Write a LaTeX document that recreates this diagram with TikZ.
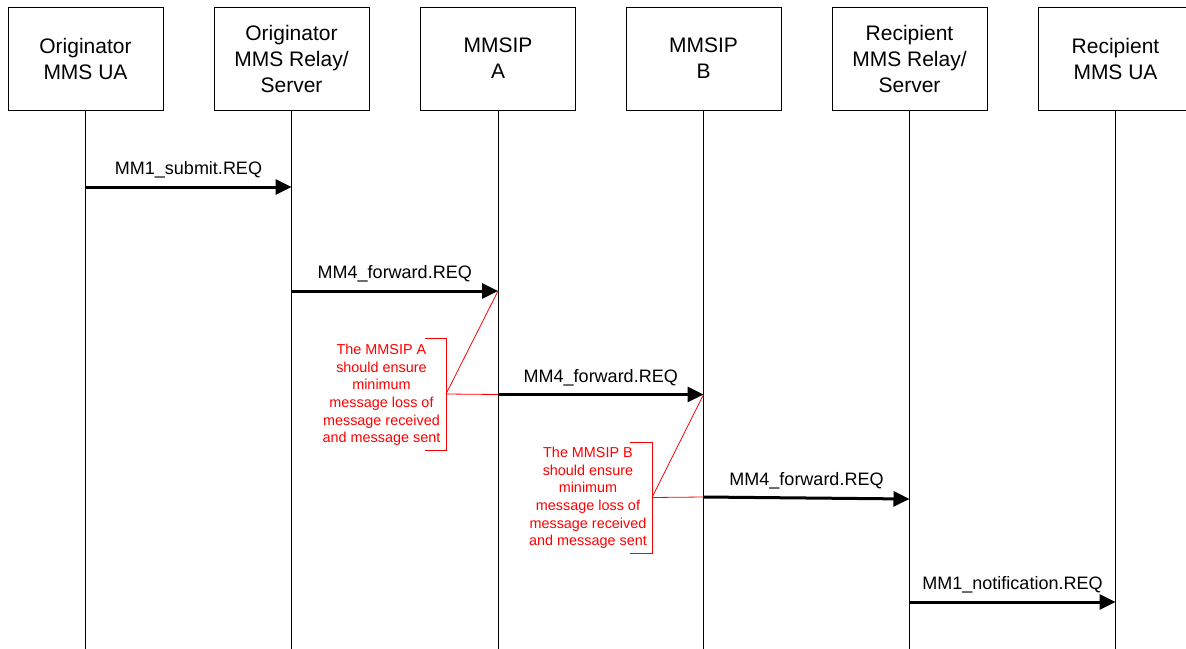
\documentclass[tikz,border=0pt]{standalone}
\usepackage{fontspec}
\setmainfont{Liberation Sans}
\usetikzlibrary{arrows.meta}

\begin{document}
\begin{tikzpicture}[x=1pt,y=-1pt,
  actor/.style={draw, line width=1pt, minimum width=155pt, minimum height=103pt,
    align=center, inner sep=0pt, font=\fontsize{21}{26}\selectfont},
  life/.style={line width=1pt},
  msg/.style={line width=3pt, -{Triangle[length=16pt,width=15pt]}},
  lbl/.style={midway, above=7pt, inner sep=0pt, font=\fontsize{18}{20}\selectfont},
  note/.style={text=red, align=center, inner sep=0pt,
    font=\fontsize{14.4}{17.6}\selectfont},
  noteline/.style={draw=red, line width=0.8pt}
]
\useasboundingbox (0,0) rectangle (1186,648);

% participants
\node[actor] (ua1)  at (85.5,58.5)   {Originator\\MMS UA};
\node[actor] (rs1)  at (291.5,58.5)  {Originator\\MMS Relay/\\Server};
\node[actor] (ipa)  at (498,58.5)    {MMSIP\\A};
\node[actor] (ipb)  at (703.5,58.5)  {MMSIP\\B};
\node[actor] (rs2)  at (909.5,58.5)  {Recipient\\MMS Relay/\\Server};
\node[actor] (ua2)  at (1115.5,58.5) {Recipient\\MMS UA};

% lifelines
\coordinate (ua1e) at (ua1.south |- 0,660);
\coordinate (rs1e) at (rs1.south |- 0,660);
\coordinate (ipae) at (ipa.south |- 0,660);
\coordinate (ipbe) at (ipb.south |- 0,660);
\coordinate (rs2e) at (rs2.south |- 0,660);
\coordinate (ua2e) at (ua2.south |- 0,660);
\draw[life] (ua1) -- (ua1e);
\draw[life] (rs1) -- (rs1e);
\draw[life] (ipa) -- (ipae);
\draw[life] (ipb) -- (ipbe);
\draw[life] (rs2) -- (rs2e);
\draw[life] (ua2) -- (ua2e);

% message end points on the lifelines
\coordinate (m1s) at (ua1.south |- 0,187);
\coordinate (m1e) at (rs1.south |- 0,187);
\coordinate (m2s) at (rs1.south |- 0,291);
\coordinate (m2e) at (ipa.south |- 0,291);
\coordinate (m3s) at (ipa.south |- 0,394.5);
\coordinate (m3e) at (ipb.south |- 0,394.5);
\coordinate (m4s) at (ipb.south |- 0,497);
\coordinate (m4e) at (rs2.south |- 0,499);
\coordinate (m5s) at (rs2.south |- 0,602);
\coordinate (m5e) at (ua2.south |- 0,602);

% messages
\draw[msg] (m1s) -- node[lbl] {MM1\_submit.REQ} (m1e);
\draw[msg] (m2s) -- node[lbl] {MM4\_forward.REQ} (m2e);
\draw[msg] (m3s) -- node[lbl] {MM4\_forward.REQ} (m3e);
\draw[msg] (m4s) -- node[lbl] {MM4\_forward.REQ} (m4e);
\draw[msg] (m5s) -- node[lbl] {MM1\_notification.REQ} (m5e);

% note for MMSIP A
\node[note] (noteA) at (381.5,395) {The MMSIP A\\should ensure\\minimum\\message loss of\\message received\\and message sent};
\coordinate (bA) at (446,394);
\draw[noteline] (425,338) -- (446,338) -- (446,450) -- (425,450);
\draw[noteline] (bA) -- (m2e);
\draw[noteline] (bA) -- (m3s);

% note for MMSIP B
\node[note] (noteB) at (588,498) {The MMSIP B\\should ensure\\minimum\\message loss of\\message received\\and message sent};
\coordinate (bB) at (652,497.5);
\draw[noteline] (630,442) -- (652,442) -- (652,553) -- (630,553);
\draw[noteline] (bB) -- (m3e);
\draw[noteline] (bB) -- (m4s);
\end{tikzpicture}
\end{document}
